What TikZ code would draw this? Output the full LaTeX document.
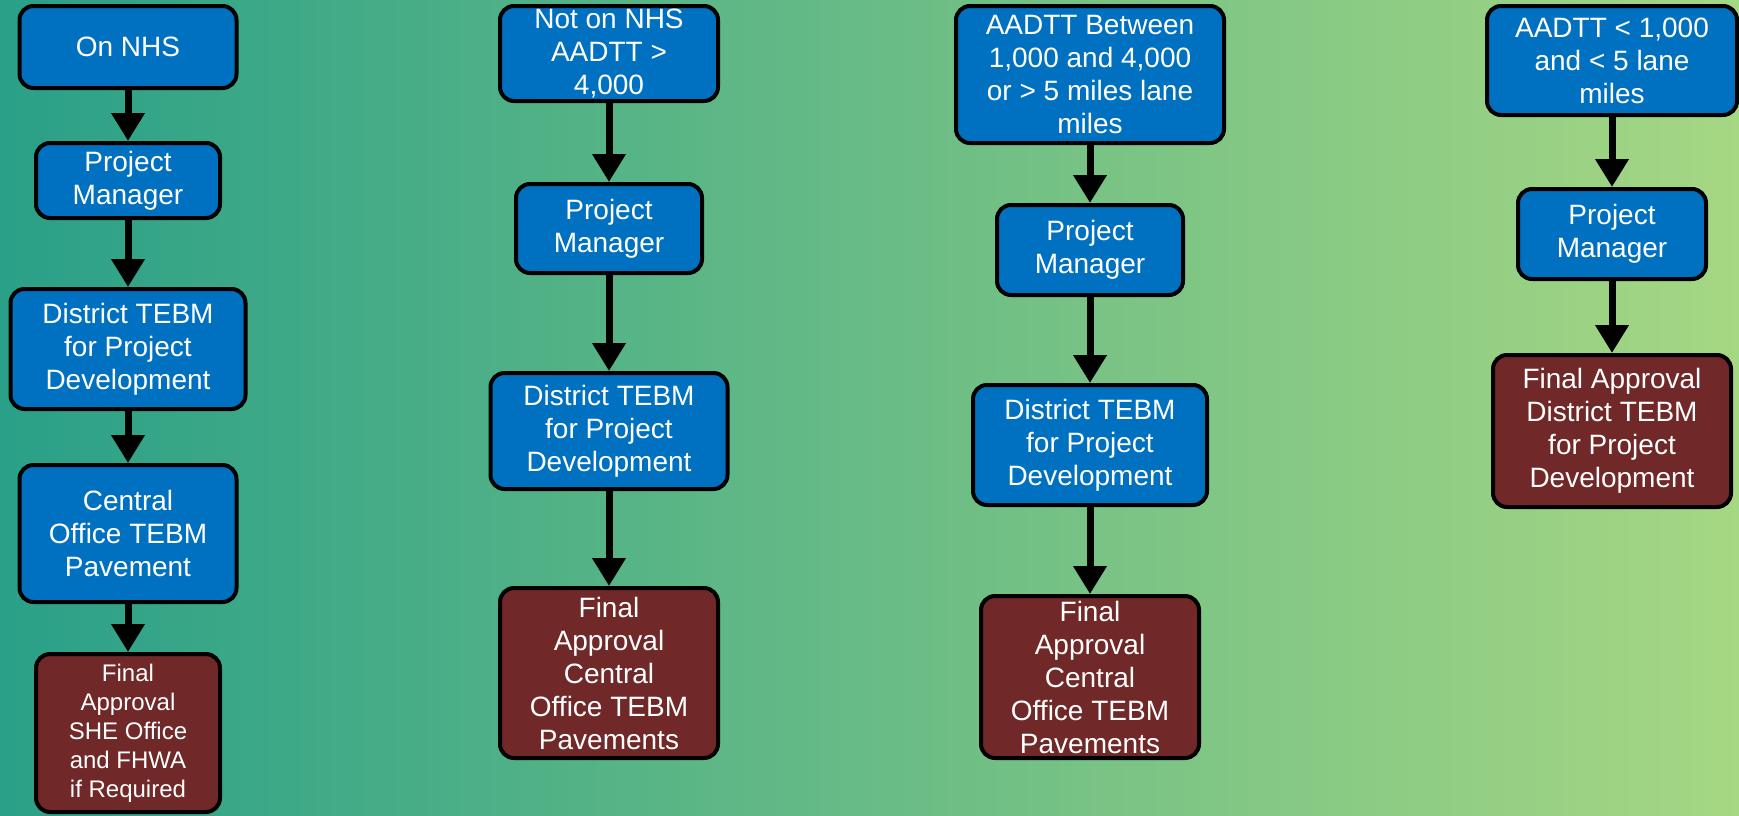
\documentclass[tikz,border=0pt]{standalone}
\usepackage{fontspec}
\setmainfont{Liberation Sans}
\usetikzlibrary{arrows.meta}
\definecolor{bgleft}{RGB}{42,160,136}
\definecolor{bgright}{RGB}{166,215,131}
\definecolor{stepblue}{RGB}{0,112,192}
\definecolor{finalred}{RGB}{112,40,40}
\tikzset{
  flow/.style={-{Triangle[width=16pt,length=14pt]},draw=black,line width=3.5pt},
  stagebox/.style={draw=black,fill=stepblue,text=white,line width=2pt,rounded corners=7pt,
    inner sep=0pt,align=center,font=\fontsize{14}{16.5}\selectfont},
  finalbox/.style={stagebox,fill=finalred}
}
\newcommand{\flowbox}[7]{%
  \node[#1,minimum width=#5*.5pt,minimum height=#6*.5pt] (#2) at (#3,#4) {#7};
}

\begin{document}
\begin{tikzpicture}[x=.5pt,y=-.5pt]
  \shade[left color=bgleft,right color=bgright] (0,0) rectangle (1739,815);
  \useasboundingbox (0,0) rectangle (1739,815);

  % On NHS.
  \flowbox{stagebox}{c1a}{128}{47}{217}{82}{On NHS}
  \flowbox{stagebox}{c1b}{128}{180.5}{184}{75}{Project\\Manager}
  \flowbox{stagebox}{c1c}{128}{349}{235}{120}{District TEBM\\for Project\\Development}
  \flowbox{stagebox}{c1d}{128}{533.5}{217}{137}{Central\\Office TEBM\\Pavement}
  \flowbox{finalbox,font=\fontsize{12}{14.5}\selectfont}{c1e}{128}{733}{184}{158}
    {Final\\Approval\\SHE Office\\and FHWA\\if Required}
  \draw[flow] (c1a.south) -- (c1b.north);
  \draw[flow] (c1b.south) -- (c1c.north);
  \draw[flow] (c1c.south) -- (c1d.north);
  \draw[flow] (c1d.south) -- (c1e.north);

  % Not on NHS.
  \flowbox{stagebox}{c2a}{609}{53.5}{218}{95}{Not on NHS\\AADTT >\\4,000}
  \flowbox{stagebox}{c2b}{609}{228.5}{186}{89}{Project\\Manager}
  \flowbox{stagebox}{c2c}{609}{431}{237}{116}{District TEBM\\for Project\\Development}
  \flowbox{finalbox}{c2d}{609}{673}{218}{170}
    {Final\\Approval\\Central\\Office TEBM\\Pavements}
  \draw[flow] (c2a.south) -- (c2b.north);
  \draw[flow] (c2b.south) -- (c2c.north);
  \draw[flow] (c2c.south) -- (c2d.north);

  % AADTT between 1,000 and 4,000.
  \flowbox{stagebox}{c3a}{1090}{74.5}{268}{137}{AADTT Between\\1,000 and 4,000\\or > 5 miles lane\\miles}
  \flowbox{stagebox}{c3b}{1090}{250}{186}{90}{Project\\Manager}
  \flowbox{stagebox}{c3c}{1090}{445}{234}{120}{District TEBM\\for Project\\Development}
  \flowbox{finalbox}{c3d}{1090}{677}{218}{162}
    {Final\\Approval\\Central\\Office TEBM\\Pavements}
  \draw[flow] (c3a.south) -- (c3b.north);
  \draw[flow] (c3b.south) -- (c3c.north);
  \draw[flow] (c3c.south) -- (c3d.north);

  % AADTT below 1,000.
  \flowbox{stagebox}{c4a}{1612}{60.5}{250}{109}{AADTT < 1,000\\and < 5 lane\\miles}
  \flowbox{stagebox}{c4b}{1612}{234}{188}{90}{Project\\Manager}
  \flowbox{finalbox}{c4c}{1612}{431}{238}{152}
    {Final Approval\\District TEBM\\for Project\\Development}
  \draw[flow] (c4a.south) -- (c4b.north);
  \draw[flow] (c4b.south) -- (c4c.north);
\end{tikzpicture}
\end{document}
